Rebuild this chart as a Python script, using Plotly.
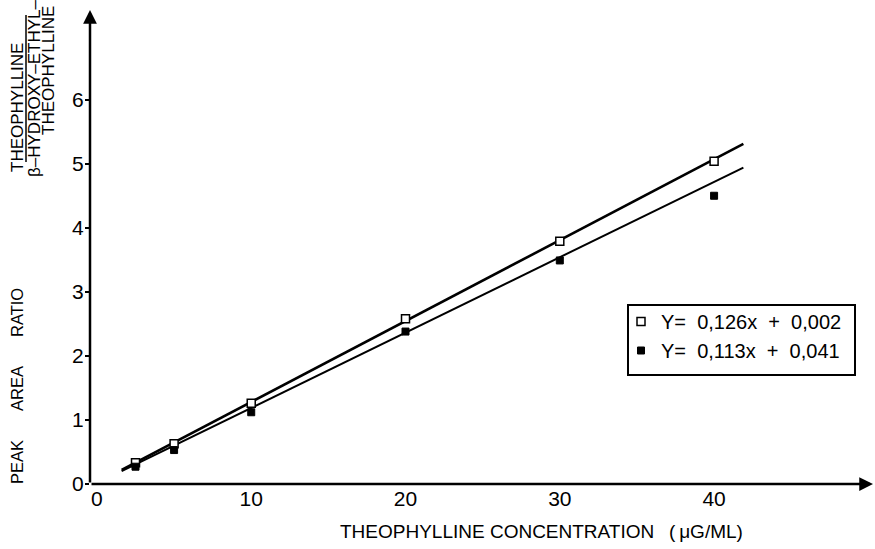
import plotly.graph_objects as go

# Data
conc = [2.5, 5, 10, 20, 30, 40]
ratio_open = [0.33, 0.63, 1.26, 2.58, 3.79, 5.04]
ratio_filled = [0.27, 0.53, 1.12, 2.38, 3.49, 4.50]

line_x = [1.6, 41.9]
line_open_y = [0.22, 5.31]
line_filled_y = [0.20, 4.94]

x_ticks = [0, 10, 20, 30, 40]
y_ticks = [0, 1, 2, 3, 4, 5, 6]

legend_open = "Y=\u00a0 0,126x\u00a0 +\u00a0 0,002"
legend_filled = "Y=\u00a0 0,113x\u00a0 +\u00a0 0,041"

FONT = "Liberation Sans, Arial, sans-serif"
NARROW = "Liberation Sans Narrow, Arial Narrow, Liberation Sans, sans-serif"

fig = go.Figure()
fig.add_trace(go.Scatter(x=line_x, y=line_open_y, mode="lines",
                         line=dict(color="black", width=2.6), showlegend=False, hoverinfo="skip"))
fig.add_trace(go.Scatter(x=line_x, y=line_filled_y, mode="lines",
                         line=dict(color="black", width=2), showlegend=False, hoverinfo="skip"))
fig.add_trace(go.Scatter(x=conc, y=ratio_open, mode="markers", name=legend_open, legendgroup="a",
                         marker=dict(symbol="square", size=8, color="white",
                                     line=dict(color="black", width=1.5))))
fig.add_trace(go.Scatter(x=conc, y=ratio_filled, mode="markers", name=legend_filled, legendgroup="b",
                         marker=dict(symbol="square", size=7, color="black",
                                     line=dict(color="black", width=1))))

W, H = 875, 549
L, R, T, B = 90, 2, 10, 65
pw, ph = W - L - R, H - T - B

def px(xp):
    return (xp - L) / pw

def py(yp):
    return (H - B - yp) / ph

fig.update_layout(
    width=W, height=H,
    margin=dict(l=L, r=R, t=T, b=B),
    paper_bgcolor="white", plot_bgcolor="white",
    font=dict(family=FONT, color="black", size=18),
    xaxis=dict(range=[-0.45, 50.3], tickvals=x_ticks, showgrid=False, zeroline=False,
               showline=False, ticks="", tickfont=dict(size=21), ticklabelstandoff=0),
    yaxis=dict(range=[0, 7.4], tickvals=y_ticks, showgrid=False, zeroline=False,
               showline=False, ticks="outside", ticklen=4, tickwidth=1.5, tickcolor="black",
               tickfont=dict(size=21), ticklabelstandoff=-3),
    legend=dict(x=px(621), y=py(302), xanchor="left", yanchor="top",
                borderwidth=0, bgcolor="rgba(0,0,0,0)",
                font=dict(size=20), tracegroupgap=0),
    showlegend=True,
)

# legend frame
fig.add_shape(type="rect", xref="paper", yref="paper", x0=px(628), x1=px(855), y0=py(375), y1=py(305),
              line=dict(color="black", width=2), fillcolor="rgba(0,0,0,0)", layer="above")

# axes with arrows
fig.add_annotation(x=1, y=0, ax=0, ay=0, xref="x domain", yref="y domain",
                   axref="x domain", ayref="y domain",
                   showarrow=True, arrowhead=2, arrowsize=1.1, arrowwidth=2.5, arrowcolor="black", text="")
fig.add_annotation(x=0, y=1, ax=0, ay=0, xref="x domain", yref="y domain",
                   axref="x domain", ayref="y domain",
                   showarrow=True, arrowhead=2, arrowsize=1.1, arrowwidth=2.5, arrowcolor="black", text="")

def ann(x, y, text, size, angle=0, family=FONT):
    fig.add_annotation(x=px(x), y=py(y), xref="paper", yref="paper", showarrow=False,
                       xanchor="center", yanchor="middle", textangle=angle,
                       text=text, font=dict(size=size, family=family))

# x title
ann(541, 531, "THEOPHYLLINE CONCENTRATION\u2002 (\u2009\u03bcG/ML)", 19)

# y title pieces
ann(17, 462, "PEAK", 16.5, -90)
ann(17, 389, "AREA", 16.5, -90)
ann(17, 313, "RATIO", 16.5, -90)
ann(17, 108, "THEOPHYLLINE", 17, -90, NARROW)
fig.add_shape(type="line", xref="paper", yref="paper", x0=px(26), x1=px(26), y0=py(15), y1=py(162),
              line=dict(color="black", width=1.5))
ann(34, 88, "\u03b2\u2013HYDROXY\u2013ETHYL\u2013", 17, -90, NARROW)
ann(48, 71, "THEOPHYLLINE", 17, -90, NARROW)

fig.write_html("out.html")
